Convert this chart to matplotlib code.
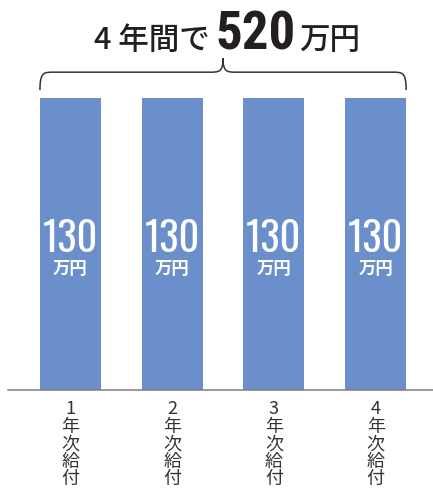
import matplotlib.pyplot as plt
import numpy as np
from matplotlib.path import Path
from matplotlib.patches import PathPatch

plt.rcParams["font.family"] = ["Noto Sans CJK JP", "DejaVu Sans"]

# Data
years = ["1", "2", "3", "4"]
amounts = [130, 130, 130, 130]
tick_labels = [f"{y}\n年\n次\n給\n付" for y in years]
total = sum(amounts)

BAR_COLOR = "#6A8FCB"
TEXT_COLOR = "#231F20"
W, H = 433, 493

fig = plt.figure(figsize=(W / 100, H / 100), dpi=100)
# baseline sits 390px from the top; axes spans the full width from 8px
ax = fig.add_axes([8 / W, 103 / H, 425 / W, 390 / H])

x = np.arange(len(amounts))
width = 0.6
bars = ax.bar(x, amounts, width, color=BAR_COLOR)

ax.set_xlim(-0.614, 3.564)
ax.set_ylim(0, 130 * 390 / 292)

for s in ["top", "right", "left"]:
    ax.spines[s].set_visible(False)
ax.spines["bottom"].set_color("#7F7F7F")
ax.spines["bottom"].set_linewidth(1.1)
ax.set_yticks([])
ax.set_xticks(x)
ax.set_xticklabels(tick_labels, fontsize=13, color="#333333", linespacing=0.96, va="top")
ax.tick_params(axis="x", length=0, pad=7.5)

# value labels inside the bars
for bar, v in zip(bars, amounts):
    cx = bar.get_x() + bar.get_width() / 2
    ax.text(cx, v * 0.473, f"{v}", ha="center", va="baseline", color="white",
            fontsize=29, fontweight="bold", family=["Oswald", "DejaVu Sans"])
    ax.text(cx, v * 0.414, "万円", ha="center", va="center", color="white",
            fontsize=12.5, fontweight="bold")

# curly brace over all bars
left = bars[0].get_x()
right = bars[-1].get_x() + bars[-1].get_width()
mid = (left + right) / 2
yb = max(amounts)
y0, y1, y2 = yb + 3.5, yb + 11.5, yb + 17.8
c = 0.13
verts = [
    (left, y0), (left, y1), (left + c * 0.3, y1), (left + c, y1),
    (mid - c, y1), (mid - c * 0.3, y1), (mid, y1), (mid, y2),
    (mid, y1), (mid + c * 0.3, y1), (mid + c, y1),
    (right - c, y1), (right - c * 0.3, y1), (right, y1), (right, y0),
]
codes = [Path.MOVETO, Path.CURVE4, Path.CURVE4, Path.CURVE4,
         Path.LINETO, Path.CURVE4, Path.CURVE4, Path.CURVE4,
         Path.CURVE4, Path.CURVE4, Path.CURVE4,
         Path.LINETO, Path.CURVE4, Path.CURVE4, Path.CURVE4]
ax.add_patch(PathPatch(Path(verts, codes), facecolor="none", edgecolor="#333333",
                       linewidth=1.1, clip_on=False))

# title: "4 年間で" + big total + "万円", all on one baseline
base_y = 1 - 49 / H
t_num = fig.text(256 / W, base_y, f"{total}", ha="center", va="baseline",
                 fontsize=38, fontweight="bold", color=TEXT_COLOR,
                 family=["Roboto Condensed", "DejaVu Sans"])
fig.canvas.draw()
bb = t_num.get_window_extent()
fig.text((bb.x0 - 6) / W, base_y, "4 年間で", ha="right", va="baseline",
         fontsize=22, fontweight="medium", color=TEXT_COLOR)
fig.text((bb.x1 + 3) / W, base_y, "万円", ha="left", va="baseline",
         fontsize=22, fontweight="medium", color=TEXT_COLOR)

plt.savefig("out.png", dpi=100)
